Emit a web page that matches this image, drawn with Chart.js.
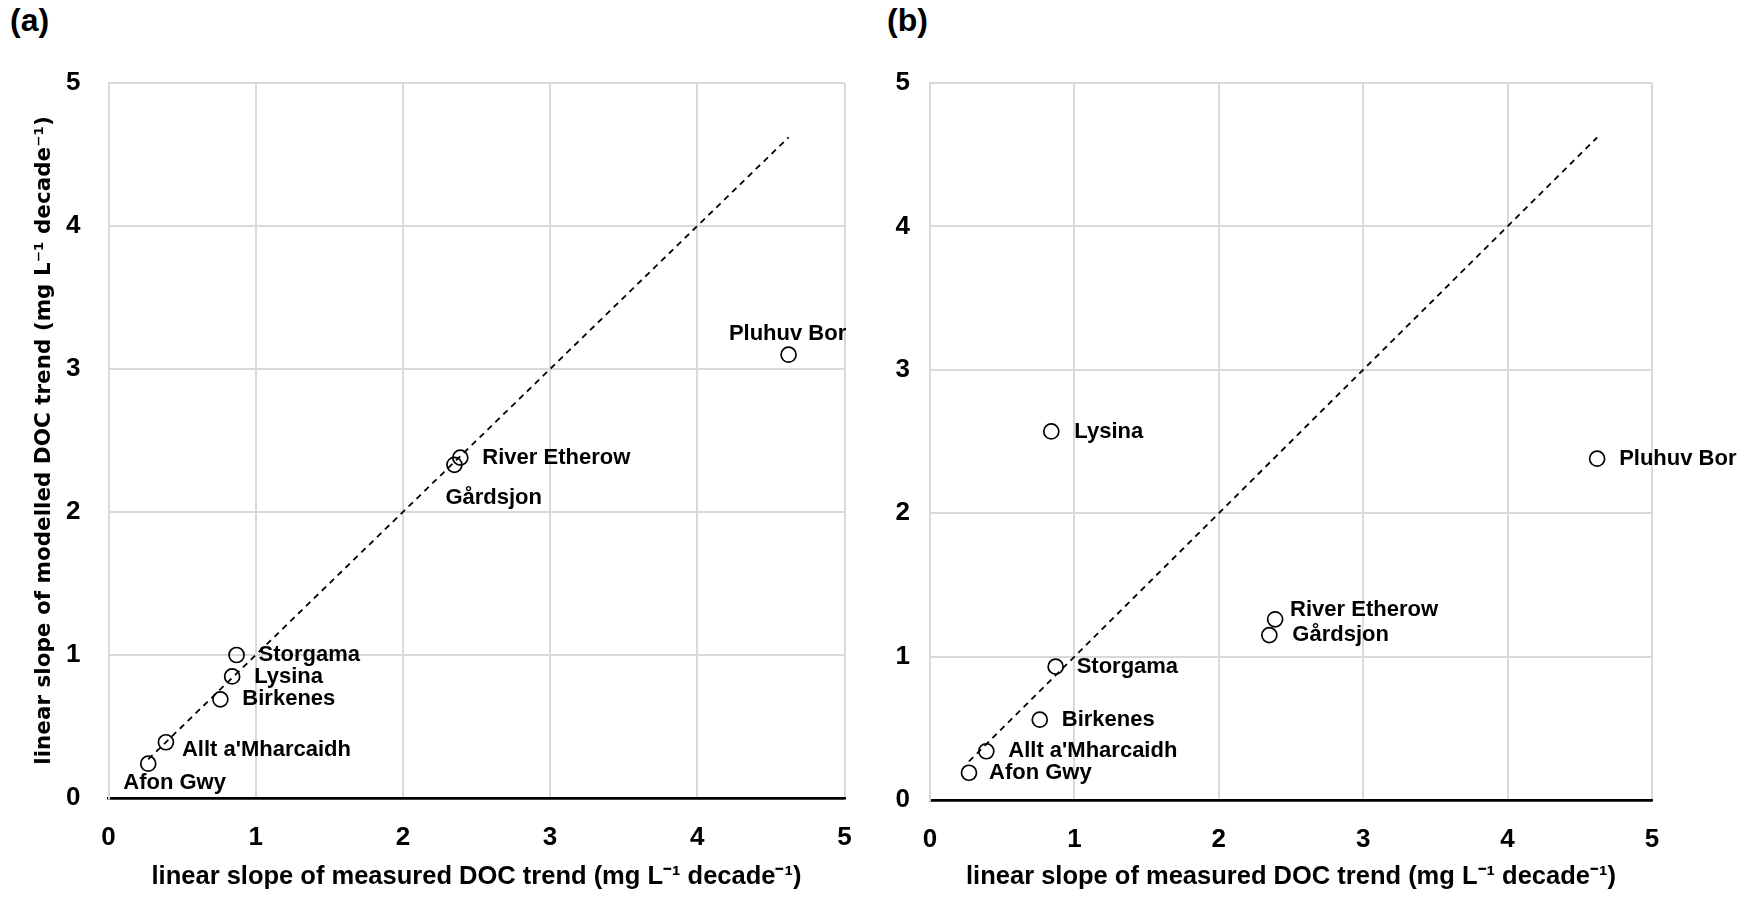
<!DOCTYPE html>
<html>
<head>
<meta charset="utf-8">
<title>Modelled vs measured DOC trends</title>
<script src="https://cdn.jsdelivr.net/npm/chart.js@4.4.1/dist/chart.umd.min.js"></script>
<style>
  html, body { margin: 0; padding: 0; background: #fff; }
  #wrap { position: relative; width: 1754px; height: 899px; overflow: hidden; }
  canvas { position: absolute; top: 0; }
  .panel-tag {
    position: absolute; top: 2px;
    font: bold 32px "Liberation Sans", Arial, sans-serif; color: #000;
  }
</style>
</head>
<body>
<div id="wrap">
  <div class="panel-tag" style="left:10px">(a)</div>
  <div class="panel-tag" style="left:887px">(b)</div>
  <canvas id="chartA" width="877" height="899" style="left:0"></canvas>
  <canvas id="chartB" width="877" height="899" style="left:877px"></canvas>
</div>
<script>
// Sites, in the same order as every value array below
const sites = ['Afon Gwy', "Allt a'Mharcaidh", 'Birkenes', 'Lysina', 'Storgama', 'Gårdsjon', 'River Etherow', 'Pluhuv Bor'];

// linear slope of measured DOC trend (x, both panels)
const measuredSlope = [0.27, 0.39, 0.76, 0.84, 0.87, 2.35, 2.39, 4.62];

// linear slope of modelled DOC trend (y)
const modelledSlopeA = [0.24, 0.39, 0.69, 0.85, 1.00, 2.33, 2.38, 3.10];
const modelledSlopeB = [0.19, 0.34, 0.56, 2.57, 0.93, 1.15, 1.26, 2.38];

// tick values for both axes
const axisTicks = [0, 1, 2, 3, 4, 5];

// label placement per site: [dx, dy, align] relative to the marker
const labelPlaceA = [[-25, 19, 'left'], [16, 8, 'left'], [22, 0, 'left'], [22, 0, 'left'],
                     [22, 0, 'left'], [-9, 33, 'left'], [22, 0, 'left'], [-1, -21, 'center']];
const labelPlaceB = [[20, 0, 'left'], [22, 0, 'left'], [22, 0, 'left'], [23, 0, 'left'],
                     [21, 0, 'left'], [23, 0, 'left'], [15, -9, 'left'], [22, 0, 'left']];

const xTitle = 'linear slope of measured DOC trend (mg L\u207B\u00B9 decade\u207B\u00B9)';
const yTitle = 'linear slope of modelled DOC trend (mg L\u207B\u00B9 decade\u207B\u00B9)';

const GRID = '#d9d9d9';
const BOLD = '"Liberation Sans", Arial, sans-serif';

window.chartInstances = window.chartInstances || {};

/**
 * Draws the site name next to each marker
 */
const siteLabels = {
    id: 'siteLabels',
    afterDatasetsDraw(chart, args, opts) {
        const ctx = chart.ctx;
        const meta = chart.getDatasetMeta(0);
        ctx.save();
        ctx.font = 'bold 22px ' + BOLD;
        ctx.fillStyle = '#000';
        ctx.textBaseline = 'middle';
        meta.data.forEach((pt, i) => {
            const place = opts.place[i];
            ctx.textAlign = place[2];
            ctx.fillText(sites[i], pt.x + place[0], pt.y + place[1]);
        });
        ctx.restore();
    }
};

/**
 * Build one scatter panel
 * @param {string} canvasId - Canvas element ID
 * @param {number[]} modelled - y values
 * @param {object} cfg - layout bits for the panel
 */
function buildPanel(canvasId, modelled, cfg) {
    const points = measuredSlope.map((m, i) => ({ x: m, y: modelled[i] }));
    // 1:1 reference line over the measured range
    const sorted = measuredSlope.slice().sort((a, b) => a - b);
    const oneToOne = [sorted[0], sorted[sorted.length - 1]].map(v => ({ x: v, y: v }));

    const setTicks = scale => { scale.ticks = axisTicks.map(v => ({ value: v })); };

    const ctx = document.getElementById(canvasId).getContext('2d');
    window.chartInstances[canvasId] = new Chart(ctx, {
        type: 'scatter',
        data: {
            datasets: [
                {
                    data: points,
                    pointRadius: 7.5,
                    pointHoverRadius: 7.5,
                    pointBorderWidth: 1.7,
                    pointBorderColor: '#000',
                    pointBackgroundColor: 'rgba(0,0,0,0)'
                },
                {
                    type: 'line',
                    data: oneToOne,
                    showLine: true,
                    borderColor: '#000',
                    borderWidth: 1.8,
                    borderDash: [6, 5],
                    pointRadius: 0,
                    fill: false
                }
            ]
        },
        options: {
            responsive: false,
            animation: false,
            devicePixelRatio: 1,
            layout: { padding: { left: 0, top: 83, right: cfg.padRight, bottom: 0 } },
            plugins: {
                legend: { display: false },
                tooltip: { enabled: false },
                siteLabels: { place: cfg.place }
            },
            scales: {
                x: {
                    type: 'linear',
                    min: 0, max: 5,
                    afterBuildTicks: setTicks,
                    afterFit: s => { s.height = cfg.xHeight; },
                    grid: { color: GRID, lineWidth: 2, drawTicks: false },
                    border: { color: '#000', width: 2.5 },
                    ticks: { color: '#000', padding: 24, font: { family: BOLD, size: 26, weight: 'bold' } },
                    title: {
                        display: true, text: xTitle, color: '#000',
                        padding: { top: 0, bottom: 7 },
                        font: { family: BOLD, size: 25.5, weight: 'bold' }
                    }
                },
                y: {
                    type: 'linear',
                    min: 0, max: 5,
                    afterBuildTicks: setTicks,
                    afterFit: s => { s.width = cfg.yWidth; },
                    grid: {
                        color: c => (c.tick && c.tick.value === 0 ? '#000' : GRID),
                        lineWidth: c => (c.tick && c.tick.value === 0 ? 2.5 : 2),
                        drawTicks: false
                    },
                    border: { color: GRID, width: 2 },
                    ticks: { color: '#000', padding: cfg.yPad, font: { family: BOLD, size: 26, weight: 'bold' } },
                    title: {
                        display: cfg.showYTitle, text: yTitle, color: '#000',
                        padding: { top: 32, bottom: 0 },
                        font: { family: '"DejaVu Sans", Verdana, sans-serif', size: 21.5, weight: 'bold' }
                    }
                }
            }
        },
        plugins: [siteLabels]
    });
}

buildPanel('chartA', modelledSlopeA, {
    padRight: 32.5, xHeight: 101, yWidth: 108.5, yPad: 28, showYTitle: true, place: labelPlaceA
});
buildPanel('chartB', modelledSlopeB, {
    padRight: 102, xHeight: 99, yWidth: 53, yPad: 20, showYTitle: false, place: labelPlaceB
});
</script>
</body>
</html>
